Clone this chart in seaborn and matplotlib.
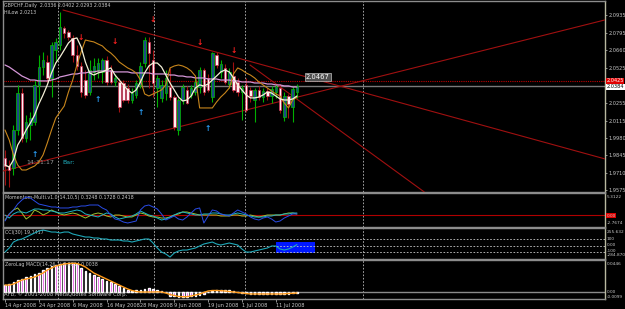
import numpy as np
import pandas as pd
import matplotlib
matplotlib.use("Agg")
import matplotlib.pyplot as plt
import seaborn as sns
from matplotlib.patches import Rectangle
from matplotlib import font_manager

# ---------------- data ----------------
opens = [1.9824, 1.9762, 1.9747, 2.0042, 2.0329, 1.9980, 2.0081, 2.0104, 2.0392, 2.0531,
         2.0570, 2.0446, 2.0663, 2.0702, 2.0834, 2.0803, 2.0757, 2.0625, 2.0539, 2.0430,
         2.0337, 2.0493, 2.0508, 2.0493, 2.0586, 2.0508, 2.0415, 2.0415, 2.0407, 2.0368,
         2.0275, 2.0314, 2.0392, 2.0562, 2.0726, 2.0586, 2.0368, 2.0291, 2.0329, 2.0376,
         2.0298, 2.0042, 2.0275, 2.0353, 2.0314, 2.0337, 2.0376, 2.0508, 2.0446, 2.0298,
         2.0625, 2.0493, 2.0524, 2.0399, 2.0461, 2.0415, 2.0337, 2.0392, 2.0353, 2.0275,
         2.0353, 2.0298, 2.0345, 2.0306, 2.0337, 2.0368, 2.0143, 2.0306, 2.0221, 2.0336]
highs = [1.9886, 1.9809, 2.0081, 2.0392, 2.0368, 2.0158, 2.0182, 2.0430, 2.0625, 2.0648,
         2.0625, 2.0726, 2.0757, 2.0959, 2.0850, 2.0819, 2.0780, 2.0702, 2.0570, 2.0508,
         2.0586, 2.0601, 2.0601, 2.0601, 2.0617, 2.0547, 2.0477, 2.0446, 2.0430, 2.0399,
         2.0368, 2.0430, 2.0570, 2.0765, 2.0765, 2.0663, 2.0469, 2.0430, 2.0508, 2.0524,
         2.0314, 2.0291, 2.0399, 2.0384, 2.0392, 2.0446, 2.0531, 2.0524, 2.0477, 2.0648,
         2.0648, 2.0586, 2.0555, 2.0524, 2.0570, 2.0446, 2.0392, 2.0446, 2.0376, 2.0368,
         2.0384, 2.0368, 2.0368, 2.0384, 2.0399, 2.0399, 2.0337, 2.0322, 2.0384, 2.0402]
lows = [1.9615, 1.9599, 1.9692, 2.0003, 1.9949, 1.9949, 1.9964, 2.0081, 2.0275, 2.0469,
        2.0415, 2.0298, 2.0570, 2.0663, 2.0757, 2.0741, 2.0570, 2.0508, 2.0298, 2.0291,
        2.0314, 2.0430, 2.0446, 2.0407, 2.0392, 2.0399, 2.0384, 2.0182, 2.0259, 2.0252,
        2.0252, 2.0291, 2.0368, 2.0531, 2.0368, 2.0298, 2.0221, 2.0259, 2.0275, 2.0275,
        2.0042, 2.0003, 2.0244, 2.0244, 2.0291, 2.0314, 2.0329, 2.0314, 2.0337, 2.0259,
        2.0524, 2.0446, 2.0399, 2.0368, 2.0337, 2.0306, 2.0120, 2.0182, 2.0259, 2.0104,
        2.0275, 2.0259, 2.0275, 2.0252, 2.0291, 2.0174, 2.0112, 2.0135, 2.0104, 2.0293]
closes = [1.9762, 1.9731, 2.0042, 2.0329, 1.9980, 2.0104, 2.0135, 2.0392, 2.0531, 2.0586,
          2.0446, 2.0702, 2.0726, 2.0842, 2.0796, 2.0765, 2.0625, 2.0539, 2.0337, 2.0314,
          2.0508, 2.0539, 2.0562, 2.0586, 2.0415, 2.0415, 2.0446, 2.0221, 2.0275, 2.0275,
          2.0329, 2.0407, 2.0539, 2.0741, 2.0640, 2.0407, 2.0446, 2.0392, 2.0446, 2.0298,
          2.0065, 2.0275, 2.0376, 2.0252, 2.0368, 2.0415, 2.0508, 2.0337, 2.0353, 2.0640,
          2.0547, 2.0555, 2.0415, 2.0493, 2.0353, 2.0337, 2.0368, 2.0197, 2.0306, 2.0353,
          2.0298, 2.0345, 2.0306, 2.0360, 2.0376, 2.0197, 2.0306, 2.0244, 2.0360, 2.0384]

ma_fast = [1.9770, 1.9754, 1.9809, 1.9925, 1.9980, 2.0042, 2.0096, 2.0158, 2.0244, 2.0314,
           2.0392, 2.0485, 2.0562, 2.0609, 2.0663, 2.0718, 2.0749, 2.0757, 2.0687, 2.0570,
           2.0485, 2.0469, 2.0485, 2.0493, 2.0508, 2.0524, 2.0469, 2.0430, 2.0392, 2.0353,
           2.0329, 2.0353, 2.0415, 2.0485, 2.0539, 2.0562, 2.0562, 2.0531, 2.0469, 2.0407,
           2.0353, 2.0298, 2.0267, 2.0275, 2.0306, 2.0368, 2.0392, 2.0384, 2.0399, 2.0430,
           2.0461, 2.0493, 2.0508, 2.0493, 2.0446, 2.0392, 2.0353, 2.0314, 2.0291, 2.0291,
           2.0298, 2.0314, 2.0337, 2.0329, 2.0306, 2.0283, 2.0275, 2.0275, 2.0283, 2.0306]
hilow = [2.0042, 1.9964, 1.9848, 1.9770, 1.9731, 1.9731, 1.9747, 1.9762, 1.9793, 1.9848,
         1.9941, 2.0042, 2.0135, 2.0182, 2.0228, 2.0337, 2.0430, 2.0547, 2.0648, 2.0741,
         2.0733, 2.0726, 2.0710, 2.0695, 2.0663, 2.0640, 2.0609, 2.0570, 2.0547, 2.0524,
         2.0508, 2.0485, 2.0430, 2.0322, 2.0306, 2.0322, 2.0337, 2.0353, 2.0392, 2.0524,
         2.0539, 2.0547, 2.0539, 2.0524, 2.0500, 2.0461, 2.0213, 2.0213, 2.0213, 2.0213,
         2.0259, 2.0298, 2.0329, 2.0368, 2.0477, 2.0524, 2.0508, 2.0485, 2.0469, 2.0446,
         2.0415, 2.0392, 2.0368, 2.0345, 2.0322, 2.0306, 2.0252, 2.0213, 2.0275, 2.0298]
ma_slow = [2.0547, 2.0531, 2.0508, 2.0485, 2.0461, 2.0446, 2.0430, 2.0430, 2.0423, 2.0423,
           2.0423, 2.0430, 2.0438, 2.0454, 2.0461, 2.0469, 2.0477, 2.0477, 2.0485, 2.0485,
           2.0493, 2.0493, 2.0500, 2.0500, 2.0500, 2.0500, 2.0493, 2.0493, 2.0493, 2.0493,
           2.0485, 2.0485, 2.0485, 2.0485, 2.0485, 2.0477, 2.0477, 2.0477, 2.0477, 2.0469,
           2.0469, 2.0461, 2.0461, 2.0454, 2.0454, 2.0446, 2.0446, 2.0446, 2.0438, 2.0438,
           2.0438, 2.0430, 2.0430, 2.0430, 2.0423, 2.0423, 2.0415, 2.0415, 2.0415, 2.0407,
           2.0407, 2.0407, 2.0399, 2.0399, 2.0392, 2.0392, 2.0384, 2.0384, 2.0376, 2.0376]

mom_blue = [-1.55, 0.17, 1.15, 2.61, 3.60, 4.33, 4.09, 3.35, 2.61, 2.37,
            2.13, 1.88, 1.88, 1.64, 1.64, 1.64, 1.88, 1.88, 2.13, 2.13,
            2.37, 2.37, 2.37, 1.64, 1.15, -0.08, -1.06, -1.31, -1.80, -2.04,
            -1.80, -1.55, 1.15, 2.13, 2.37, 1.88, 1.39, 0.17, -1.31, -0.82,
            -0.33, -1.06, -1.31, -0.57, 0.41, 1.39, 1.64, -2.04, -0.33, 1.15,
            0.90, 0.17, -0.08, -0.33, 0.41, 1.15, 0.66, 0.17, -0.57, -1.06,
            -1.31, -0.82, -0.57, -1.06, -1.80, -1.55, -0.82, -0.33, 0.17, 0.17]
mom_cyan = [-0.08, -0.82, 0.17, 0.66, 0.66, 0.41, 0.90, 1.39, 1.39, 1.15,
            1.15, 0.90, 0.66, 0.41, 0.41, 0.66, 0.90, 1.15, 0.90, 0.17,
            -0.08, -0.33, -0.57, -0.08, 0.41, 0.17, -0.57, -1.06, -0.82, -0.57,
            -0.33, 0.17, 0.90, 0.41, -0.08, -0.33, -0.82, -1.31, -1.06, -0.57,
            -0.08, 0.41, 0.66, 0.41, 0.17, -0.08, -0.08, 0.17, 0.17, 0.41,
            0.41, 0.17, -0.08, -0.08, 0.17, 0.41, 0.17, -0.08, -0.33, -0.57,
            -0.57, -0.57, -0.33, -0.33, -0.08, -0.08, 0.17, 0.17, 0.41, 0.41]
mom_green = [-1.31, 0.17, 1.15, 1.64, 0.41, -1.06, -0.33, 1.15, 0.66, -0.08,
             0.41, 1.15, 0.66, 0.17, -0.08, 0.17, 0.41, 0.17, -0.33, -0.82,
             -0.33, 0.17, 0.41, 0.17, -0.33, -0.57, -0.08, -0.08, -0.33, -0.57,
             -0.57, -0.08, 0.41, 0.17, -0.33, -0.57, -0.57, -0.82, -0.82, -0.57,
             -0.08, 0.17, 0.66, 0.66, 0.41, 0.17, -0.08, -0.08, -0.08, -0.08,
             -0.08, -0.33, -0.33, -0.33, -0.08, -0.08, -0.33, -0.33, -0.08, -0.33,
             -0.57, -0.33, -0.08, -0.08, -0.08, -0.08, 0.17, 0.41, 0.41, 0.17]

cci = [-96, -34, 58, 89, 105, 135, 166, 197, 228, 243,
       228, 212, 212, 197, 212, 212, 182, 166, 151, 135,
       135, 120, 120, 105, 105, 89, 89, 89, 74, 74,
       58, 74, 89, 105, 105, 43, -34, -96, -126, -173,
       -111, -80, -65, -65, -49, -34, -3, 28, 43, 58,
       28, 12, 28, 43, 28, 12, -49, -96, -96, -80,
       -65, -49, -34, -3, -3, -49, -65, -49, -19, 19]

macd_hist = [0.0096, 0.0110, 0.0138, 0.0166, 0.0180, 0.0208, 0.0222, 0.0250, 0.0264, 0.0306,
             0.0334, 0.0362, 0.0376, 0.0390, 0.0404, 0.0411, 0.0411, 0.0390, 0.0334, 0.0292,
             0.0264, 0.0236, 0.0208, 0.0180, 0.0159, 0.0138, 0.0110, 0.0089, 0.0055, 0.0027,
             0.0013, 0.0020, 0.0027, 0.0036, 0.0050, 0.0041, 0.0027, 0.0013, -0.0001, -0.0057,
             -0.0064, -0.0067, -0.0067, -0.0067, -0.0064, -0.0057, -0.0043, -0.0029, -0.0001, 0.0013,
             0.0027, 0.0020, 0.0020, 0.0027, 0.0013, -0.0001, -0.0015, -0.0022, -0.0029, -0.0034,
             -0.0034, -0.0029, -0.0029, -0.0029, -0.0029, -0.0029, -0.0029, -0.0029, -0.0022, -0.0020]
macd_signal = [0.0096, 0.0096, 0.0110, 0.0138, 0.0166, 0.0180, 0.0194, 0.0208, 0.0236, 0.0264,
               0.0306, 0.0334, 0.0362, 0.0376, 0.0390, 0.0397, 0.0400, 0.0397, 0.0376, 0.0348,
               0.0306, 0.0264, 0.0236, 0.0208, 0.0180, 0.0152, 0.0124, 0.0096, 0.0068, 0.0041,
               0.0020, 0.0006, -0.0001, -0.0001, -0.0001, -0.0001, 0.0001, -0.0001, -0.0015, -0.0036,
               -0.0050, -0.0064, -0.0067, -0.0067, -0.0057, -0.0043, -0.0029, -0.0008, 0.0013, 0.0020,
               0.0020, 0.0017, 0.0013, 0.0006, -0.0001, -0.0008, -0.0015, -0.0022, -0.0029, -0.0029,
               -0.0029, -0.0029, -0.0029, -0.0029, -0.0029, -0.0029, -0.0027, -0.0022, -0.0020, -0.0015]

date_ticks = [0, 8, 16, 24, 32, 40, 48, 56, 64]
date_labels = ["14 Apr 2008", "24 Apr 2008", "6 May 2008", "16 May 2008", "28 May 2008",
               "9 Jun 2008", "19 Jun 2008", "1 Jul 2008", "11 Jul 2008"]
period_seps = [12.5, 35.2, 56.7, 84.6]
price_ticks = [2.0935, 2.0795, 2.0660, 2.0525, 2.0255, 2.0115, 1.9980, 1.9845, 1.9710, 1.9575]

arrow_down_idx = [18, 26, 35, 46, 54]
arrow_down_price = [2.0757, 2.0726, 2.0897, 2.0718, 2.0663]
arrow_up_idx = [7, 22, 32, 48]
arrow_up_price = [1.9855, 2.0275, 2.0174, 2.0050]

trend_a_x, trend_a_y = [13.7, 141.8], [2.0974, 1.9817]
trend_b_x, trend_b_y = [-0.5, 141.8], [1.9723, 2.0897]
trend_c_x, trend_c_y = [57.9, 99.1], [2.0547, 1.9560]
line_red_level = 2.0425
bid_level = 2.0384
cci_levels = [100, 0, -100]
cci_box = (64.1, 73.3, -106, 63)   # x0, x1, y0, y1

# ---------------- style ----------------
sns.set_theme(style="dark", rc={"axes.facecolor": "black", "figure.facecolor": "black"})
_avail = {f.name for f in font_manager.fontManager.ttflist}
_fams = [f for f in ["Liberation Sans Narrow", "DejaVu Sans Condensed"] if f in _avail] + ["DejaVu Sans"]
plt.rcParams["font.family"] = _fams
NARROW = _fams[0] != "DejaVu Sans"
FS = 4.6 if NARROW else 3.6

W, H = 625, 309
fig = plt.figure(figsize=(W / 100, H / 100), dpi=100)
fig.patch.set_facecolor("black")


def rect(x0, y0, x1, y1):
    return [x0 / W, 1 - y1 / H, (x1 - x0) / W, (y1 - y0) / H]


ax = fig.add_axes(rect(3, 1, 605, 192))
ax_m = fig.add_axes(rect(3, 193, 605, 227))
ax_c = fig.add_axes(rect(3, 228, 605, 259))
ax_d = fig.add_axes(rect(3, 260, 605, 299))

XL = (-0.47, 141.8)
GRAY = "#c8c8c8"
for a in (ax, ax_m, ax_c, ax_d):
    a.set_facecolor("black")
    a.set_xlim(*XL)
    a.grid(False)
    for s in a.spines.values():
        s.set_color("#8c8c8c")
        s.set_linewidth(1.0)
    a.spines["right"].set_color("#b8b8a0")
    a.set_xticks([])
    a.set_yticks([])
    for xs in period_seps:
        a.axvline(xs, color="#bdbdbd", lw=0.6, ls=(0, (2, 2)), zorder=1)

idx = np.arange(len(closes))

# ---------------- main chart ----------------
ax.set_ylim(1.9560, 2.1044)
ax.axhline(line_red_level, color="#c00000", lw=0.8, ls=(0, (1, 1)), zorder=2)
ax.axhline(bid_level, color="#7a7a7a", lw=1.0, zorder=2)

for tx, ty in ((trend_a_x, trend_a_y), (trend_b_x, trend_b_y), (trend_c_x, trend_c_y)):
    ax.plot(tx, ty, color="#a01010", lw=0.8, zorder=3)

o = np.array(opens); c = np.array(closes); h = np.array(highs); l = np.array(lows)
bull = c >= o
ax.vlines(idx[bull], l[bull], h[bull], color="#00b000", lw=0.8, zorder=4)
ax.vlines(idx[~bull], l[~bull], h[~bull], color="#a01010", lw=0.8, zorder=4)
body_lo = np.minimum(o, c)
body_h = np.maximum(np.abs(c - o), 0.0003)
ax.bar(idx[bull], body_h[bull], bottom=body_lo[bull], width=0.6,
       color="#1c4a86", edgecolor="#00c000", linewidth=0.5, zorder=5)
ax.bar(idx[~bull], body_h[~bull], bottom=body_lo[~bull], width=0.6,
       color="#fff0f4", edgecolor="#d03050", linewidth=0.5, zorder=5)

df_main = pd.DataFrame({"i": idx, "fast": ma_fast, "hilow": hilow, "slow": ma_slow})
sns.lineplot(data=df_main, x="i", y="slow", ax=ax, color="#d596d8", lw=0.9, zorder=6)
sns.lineplot(data=df_main, x="i", y="hilow", ax=ax, color="#c8861c", lw=0.8, zorder=6)
sns.lineplot(data=df_main, x="i", y="fast", ax=ax, color="#f4f0d8", lw=0.9, zorder=7)

for xi, yp in zip(arrow_down_idx, arrow_down_price):
    ax.text(xi, yp, "\u2193", color="#ff2020", fontsize=5.5, fontweight="bold",
            family="DejaVu Sans", ha="center", va="center", zorder=8)
for xi, yp in zip(arrow_up_idx, arrow_up_price):
    ax.text(xi, yp, "\u2191", color="#2a9df4", fontsize=5.5, fontweight="bold",
            family="DejaVu Sans", ha="center", va="center", zorder=8)

ax.set_xlabel(""); ax.set_ylabel("")
ax.yaxis.tick_right()
ax.set_yticks(price_ticks)
ax.set_yticklabels([f"{v:.4f}" for v in price_ticks])
ax.tick_params(axis="y", colors=GRAY, labelsize=FS, length=1.5, width=0.5, pad=1.0, right=True)
ax.set_xticks([])

ax.text(0.002, 0.975, "GBPCHF,Daily  2.0336 2.0402 2.0293 2.0384", transform=ax.transAxes,
        color=GRAY, fontsize=FS * 0.95, ha="left", va="center")
ax.text(0.002, 0.938, "HiLow 2.0213", transform=ax.transAxes,
        color=GRAY, fontsize=FS * 0.95, ha="left", va="center")
ax.text(0.038, 0.157, "14:31:17", transform=ax.transAxes, color="#9a9a9a",
        fontsize=FS * 1.25, ha="left", va="center")
ax.text(0.098, 0.157, "Bar:", transform=ax.transAxes, color="#20b0c0",
        fontsize=FS * 1.25, ha="left", va="center")
ax.text(0.523, 0.600, "2.0467", transform=ax.transAxes, color="#ffffff", fontsize=FS * 1.35,
        ha="center", va="center",
        bbox=dict(boxstyle="square,pad=0.15", facecolor="#505050", edgecolor="#c0c0c0", lw=0.5))

# price boxes on the right scale
fig.text(606.5 / W, 1 - 80.7 / H, f"{line_red_level:.4f}", color="white", fontsize=FS,
         ha="left", va="center", bbox=dict(boxstyle="square,pad=0.1", facecolor="#e00000", lw=0))
fig.text(606.5 / W, 1 - 86.7 / H, f"{bid_level:.4f}", color="black", fontsize=FS,
         ha="left", va="center", bbox=dict(boxstyle="square,pad=0.1", facecolor="white", lw=0))

# ---------------- momentum ----------------
ax_m.set_ylim(-3.02, 5.31)
ax_m.axhline(0, color="#b00000", lw=0.8, zorder=2)
df_m = pd.DataFrame({"i": idx, "a": mom_blue, "b": mom_cyan, "c": mom_green})
sns.lineplot(data=df_m, x="i", y="c", ax=ax_m, color="#9cc030", lw=0.7, zorder=3)
sns.lineplot(data=df_m, x="i", y="b", ax=ax_m, color="#20b4c4", lw=0.7, zorder=4)
sns.lineplot(data=df_m, x="i", y="a", ax=ax_m, color="#2a4ce8", lw=0.7, zorder=5)
ax_m.set_xlabel(""); ax_m.set_ylabel(""); ax_m.set_xticks([]); ax_m.set_yticks([])
ax_m.text(0.004, 0.86, "Momentum-Multi.v1.0(14,10,5) 0.3248 0.1728 0.2418",
          transform=ax_m.transAxes, color=GRAY, fontsize=FS * 0.95, ha="left", va="center")

# ---------------- CCI ----------------
ax_c.set_ylim(-203, 274)
x0, x1, y0, y1 = cci_box
ax_c.add_patch(Rectangle((x0, y0), x1 - x0, y1 - y0, facecolor="#0018ff", edgecolor="none", zorder=2))
for lv in cci_levels:
    ax_c.axhline(lv, color="#c8c8c8", lw=0.6, ls=(0, (2, 2)), zorder=3)
df_c = pd.DataFrame({"i": idx, "cci": cci})
sns.lineplot(data=df_c, x="i", y="cci", ax=ax_c, color="#1fa8b8", lw=0.8, zorder=4)
ax_c.set_xlabel(""); ax_c.set_ylabel(""); ax_c.set_xticks([]); ax_c.set_yticks([])
ax_c.text(0.004, 0.84, "CCI(30) 19.1417", transform=ax_c.transAxes,
          color=GRAY, fontsize=FS * 0.95, ha="left", va="center")

# ---------------- ZeroLag MACD ----------------
ax_d.set_ylim(-0.0099, 0.0446)
ax_d.axhline(0, color="#8a8a8a", lw=1.0, zorder=2)
ax_d.bar(idx, macd_hist, width=0.4, color="#e020e0", zorder=3)
df_d = pd.DataFrame({"i": idx, "sig": macd_signal})
sns.lineplot(data=df_d, x="i", y="sig", ax=ax_d, color="#ff9a1a", lw=1.0, zorder=4)
ax_d.set_xlabel(""); ax_d.set_ylabel("")
ax_d.set_yticks([])
ax_d.text(0.004, 0.88, "ZeroLag MACD(14,26,1) 0.0014 0.0038", transform=ax_d.transAxes,
          color=GRAY, fontsize=FS * 0.95, ha="left", va="center")
ax_d.text(0.002, 0.12, "AFB, \u00a9 2001-2008 MetaQuotes Software Corp.", transform=ax_d.transAxes,
          color=GRAY, fontsize=FS * 1.05, ha="left", va="center")
ax_d.set_xticks(date_ticks)
ax_d.set_xticklabels(date_labels, ha="left")
ax_d.tick_params(axis="x", colors=GRAY, labelsize=FS * 1.0, length=2, width=0.5, pad=1, bottom=True)

# right-hand labels of the indicator panels
side_labels = [(197, "5.3122", None), (215.7, "0.00", "#e00000"), (223, "-2.7674", None),
               (232, "255.632", None), (238.5, "100", None), (245.5, "0.00", None),
               (251, "-100", None), (255, "-284.870", None),
               (264, "0.0446", None), (292, "0.00", None), (296.5, "-0.0099", None)]
for yy, txt, bg in side_labels:
    kw = {}
    if bg:
        kw["bbox"] = dict(boxstyle="square,pad=0.05", facecolor=bg, lw=0)
    fig.text(606.5 / W, 1 - yy / H, txt, color=GRAY, fontsize=FS * 0.85, ha="left", va="center", **kw)

fig.savefig("out.png", dpi=100, facecolor="black")
